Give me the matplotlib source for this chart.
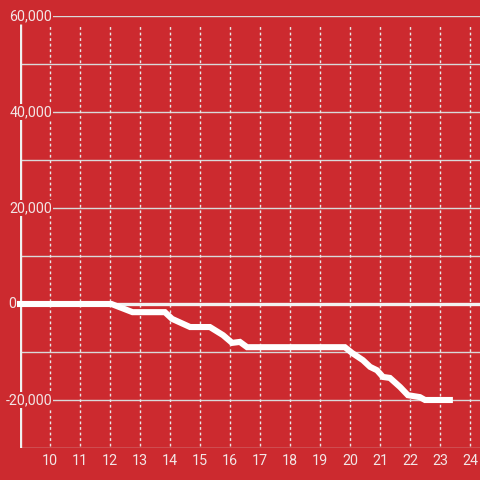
import matplotlib
matplotlib.use("Agg")
import matplotlib.pyplot as plt

# data
hours = [9.0, 12.05, 12.75, 13.83, 14.07, 14.67, 15.33, 15.77, 16.07, 16.33, 16.57,
         19.83, 20.07, 20.43, 20.67, 20.9, 21.1, 21.33, 21.67, 21.93, 22.33, 22.5, 23.43]
values = [0, 0, -1700, -1700, -3100, -4800, -4800, -6500, -8100, -7900, -9000,
          -9000, -10200, -11700, -13100, -13800, -15200, -15400, -17300, -19000, -19400, -20000, -20000]
x_ticks = list(range(10, 25))
y_ticks = [-20000, 0, 20000, 40000, 60000]
y_grid = list(range(-30000, 60001, 10000))

BG = "#cc2a2f"
GRID = "#d9d9d9"
TXT = "#f2e6e6"

fig = plt.figure(figsize=(4.8, 4.8), dpi=100, facecolor=BG)
ax = fig.add_axes([20/480, 32/480, 460/480, 432/480], facecolor=BG)
ax.set_xlim(9, 9 + 460/30)
ax.set_ylim(-30000, 60000)
for s in ax.spines.values():
    s.set_visible(False)
ax.set_xticks([])
ax.set_yticks([])

for g in y_grid:
    ax.axhline(g, color=GRID, lw=1, zorder=1)
for xt in x_ticks:
    ax.axvline(xt, ymin=0.005, ymax=1 - 8/432, color="#e8e8e8", lw=1,
               linestyle=(0, (2, 2)), zorder=1)

# zero line
ax.plot([9 - 3/30, 24.4], [0, 0], color="#f2f2f2", lw=2.4, zorder=2, clip_on=False,
        solid_capstyle="butt")
# y axis line
ax.plot([9, 9], [-30000, 60000 - 8 * 90000/432], color="#f0f0f0", lw=2.4, zorder=2,
        solid_capstyle="butt")

ax.plot([9 - 3/30] + hours[1:], [0] + values[1:], color="white", lw=4.4, zorder=4,
        solid_capstyle="butt", solid_joinstyle="miter", clip_on=False)

for yt in y_ticks:
    xr = 9 + 32/30 if yt != 0 else 9 - 4/30
    ax.text(xr, yt, f"{yt:,}", ha="right", va="center", color=TXT,
            fontsize=10.3, family="Roboto", zorder=5, clip_on=False,
            bbox=dict(boxstyle="square,pad=0.1", fc=BG, ec="none"))
for xt in x_ticks:
    ax.text(xt, -30000 - 13 * 90000/432, str(xt), ha="center", va="center",
            color=TXT, fontsize=10.3, family="Roboto", clip_on=False)

fig.savefig("out.png", dpi=100, facecolor=BG)
